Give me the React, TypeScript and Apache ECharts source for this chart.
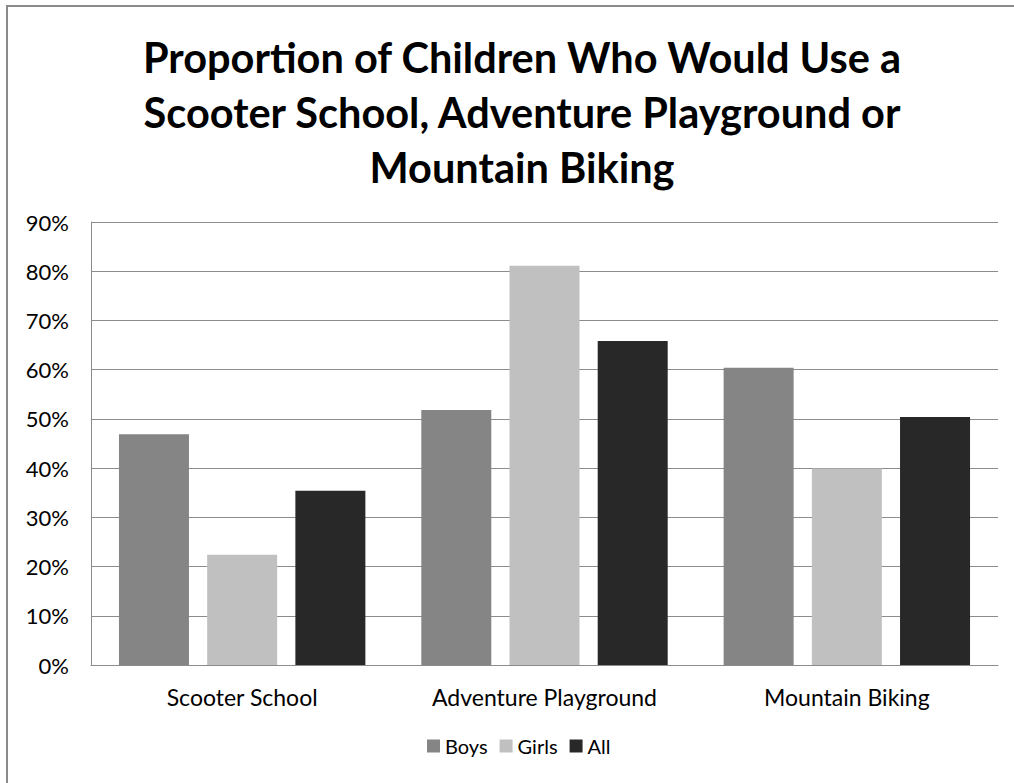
import React, { useEffect, useRef } from "react";
import * as echarts from "echarts";

const categories = ["Scooter School", "Adventure Playground", "Mountain Biking"];
const seriesNames = ["Boys", "Girls", "All"];
const boys = [46.9, 51.8, 60.4];
const girls = [22.4, 81.1, 39.9];
const all = [35.4, 65.8, 50.4];
const seriesColors = ["#858585", "#c0c0c0", "#282828"];
const titleText = "Proportion of Children Who Would Use a\nScooter School, Adventure Playground or\nMountain Biking";

const FONT = "Lato, 'Open Sans', sans-serif";

export default function App() {
  const ref = useRef<HTMLDivElement>(null);
  useEffect(() => {
    if (!ref.current) return;
    const chart = echarts.init(ref.current, undefined, { renderer: "svg" });
    const values = [boys, girls, all];
    chart.setOption({
      animation: false,
      backgroundColor: "#ffffff",
      title: {
        text: titleText,
        left: 517,
        top: 24,
        textAlign: "center",
        textStyle: {
          fontFamily: FONT,
          fontWeight: "bold",
          fontSize: 41.5,
          lineHeight: 55,
          color: "#000000",
        },
      },
      graphic: [
        {
          type: "line",
          shape: { x1: 7, y1: 5, x2: 7, y2: 800 },
          style: { stroke: "#8a8a8a", lineWidth: 2 },
          silent: true,
        },
        {
          type: "line",
          shape: { x1: 6, y1: 6, x2: 1030, y2: 6 },
          style: { stroke: "#8a8a8a", lineWidth: 2 },
          silent: true,
        },
      ],
      legend: {
        data: seriesNames,
        bottom: 22,
        left: 422,
        itemWidth: 13,
        itemHeight: 13,
        itemGap: 12,
        icon: "rect",
        textStyle: { fontFamily: FONT, fontSize: 20, color: "#000000" },
      },
      grid: { left: 91, right: 16, top: 222, bottom: 118, containLabel: false },
      xAxis: {
        type: "category",
        data: categories,
        axisLine: { show: true, lineStyle: { color: "#8c8c8c", width: 1 } },
        axisTick: { show: false },
        axisLabel: { fontFamily: FONT, fontSize: 23, color: "#000000", margin: 20 },
      },
      yAxis: {
        type: "value",
        min: 0,
        max: 90,
        interval: 10,
        axisLine: { show: true, lineStyle: { color: "#8c8c8c", width: 1 } },
        axisTick: { show: false },
        splitLine: { show: true, lineStyle: { color: "#8c8c8c", width: 1 } },
        axisLabel: {
          fontFamily: FONT,
          fontSize: 22,
          color: "#000000",
          margin: 22,
          formatter: (v: number) => `${v}%`,
        },
      },
      series: seriesNames.map((name, i) => ({
        name,
        type: "bar",
        data: values[i],
        barGap: "26%",
        barCategoryGap: "18.5%",
        itemStyle: { color: seriesColors[i] },
      })),
    });
    return () => chart.dispose();
  }, []);
  return (
    <div
      ref={ref}
      style={{ position: "absolute", left: 0, top: 0, width: 1014, height: 783 }}
    />
  );
}
